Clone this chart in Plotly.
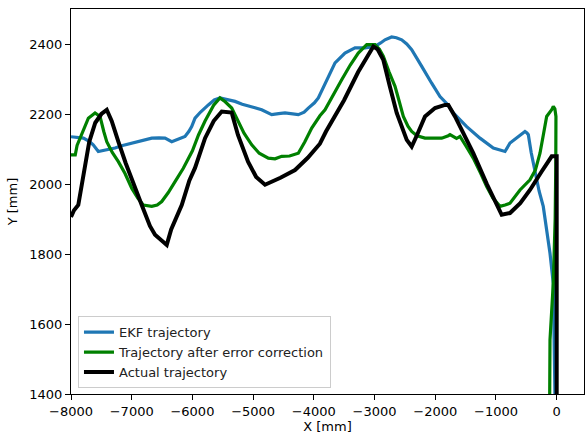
import plotly.graph_objects as go

# EKF trajectory
ekf_x = [-8000, -7900, -7796, -7700, -7634, -7550, -7450, -7385, -7275, -7150, -7000, -6850,
         -6670, -6550, -6451, -6341, -6200, -6122, -6060, -6012, -5957, -5870, -5738, -5640,
         -5546, -5420, -5298, -5180, -5078, -4970, -4859, -4694, -4580, -4475, -4256, -4160,
         -4091, -3990, -3926, -3816, -3740, -3651, -3487, -3322, -3157, -2993, -2900, -2828,
         -2718, -2640, -2553, -2470, -2388, -2300, -2223, -2059, -1922, -1800, -1703, -1482,
         -1263, -1044, -950, -851, -769, -604, -522, -490, -467, -420, -357, -290, -221, -165,
         -110, -56, -40, -28, -20]
ekf_y = [2135, 2134, 2131, 2122, 2112, 2093, 2097, 2098, 2103, 2110, 2117, 2124,
         2131, 2132, 2131, 2121, 2130, 2136, 2150, 2164, 2188, 2205, 2226, 2240,
         2246, 2242, 2236, 2228, 2222, 2218, 2212, 2198, 2201, 2203, 2198, 2205,
         2217, 2232, 2246, 2284, 2315, 2346, 2374, 2389, 2389, 2393, 2403, 2412,
         2420, 2418, 2412, 2400, 2384, 2360, 2336, 2288, 2250, 2228, 2203, 2164,
         2131, 2103, 2098, 2093, 2117, 2141, 2150, 2146, 2141, 2090, 2031, 1980, 1936, 1875,
         1802, 1716, 1574, 1403, 1300]

# Trajectory after error correction
corr_x = [-8000, -7930, -7900, -7851, -7780, -7714, -7604, -7522, -7460, -7411, -7320, -7220,
          -7110, -7000, -6900, -6809, -6670, -6580, -6505, -6400, -6286, -6150, -6000, -5900,
          -5792, -5738, -5650, -5546, -5460, -5353, -5250, -5150, -5023, -4900, -4750, -4640,
          -4529, -4400, -4256, -4150, -4035, -3900, -3816, -3700, -3541, -3400, -3268, -3129,
          -2993, -2920, -2856, -2760, -2663, -2600, -2526, -2450, -2388, -2300, -2169, -2050,
          -1894, -1785, -1757, -1650, -1593, -1500, -1374, -1250, -1153, -1050, -934, -850,
          -769, -604, -440, -350, -275, -220, -165, -82, -56, -30, -12, -15, -25, -56, -90,
          -110, -115, -118]
corr_y = [2083, 2083, 2110, 2131, 2165, 2188, 2203, 2193, 2150, 2121, 2090, 2064,
          2030, 1988, 1960, 1940, 1936, 1940, 1950, 1975, 2007, 2045, 2095, 2140,
          2180, 2198, 2225, 2246, 2235, 2217, 2180, 2145, 2112, 2088, 2074, 2072,
          2079, 2080, 2088, 2120, 2160, 2195, 2212, 2250, 2298, 2340, 2374, 2398,
          2398, 2385, 2365, 2320, 2279, 2240, 2193, 2165, 2150, 2138, 2131, 2131,
          2131, 2138, 2141, 2130, 2136, 2110, 2074, 2030, 1993, 1960, 1936, 1940,
          1945, 1983, 2012, 2040, 2088, 2140, 2193, 2212, 2222, 2215, 2193, 2050, 1900, 1716, 1620,
          1555, 1400, 1300]

# Actual trajectory
act_x = [-8000, -7950, -7880, -7800, -7700, -7600, -7500, -7411, -7330, -7220, -7100, -6835,
         -6700, -6616, -6520, -6423, -6350, -6176, -6050, -5957, -5792, -5650, -5517, -5353,
         -5250, -5084, -4950, -4804, -4550, -4310, -4100, -3900, -3800, -3500, -3270, -3020,
         -2950, -2856, -2750, -2635, -2470, -2388, -2300, -2169, -2004, -1840, -1785, -1675,
         -1374, -1150, -906, -769, -600, -440, -250, -82, 0, 0]
act_y = [1906, 1925, 1940, 2020, 2120, 2175, 2200, 2212, 2180, 2121, 2060, 1940,
         1880, 1855, 1840, 1826, 1870, 1940, 2010, 2046, 2131, 2180, 2207, 2204,
         2140, 2064, 2020, 1998, 2018, 2040, 2075, 2115, 2150, 2240, 2320, 2393,
         2385, 2355, 2280, 2203, 2126, 2107, 2140, 2193, 2217, 2226, 2226, 2193,
         2088, 2000, 1912, 1917, 1945, 1983, 2035, 2079, 2079, 1300]

x_ticks = [-8000, -7000, -6000, -5000, -4000, -3000, -2000, -1000, 0]
x_tick_labels = ["\u22128000", "\u22127000", "\u22126000", "\u22125000", "\u22124000",
                 "\u22123000", "\u22122000", "\u22121000", "0"]
y_ticks = [1400, 1600, 1800, 2000, 2200, 2400]
y_tick_labels = ["1400", "1600", "1800", "2000", "2200", "2400"]

FONT = "DejaVu Sans"

fig = go.Figure()
fig.add_trace(go.Scatter(x=ekf_x, y=ekf_y, mode="lines", name="EKF trajectory",
                         line=dict(color="#1f77b4", width=3.2)))
fig.add_trace(go.Scatter(x=corr_x, y=corr_y, mode="lines", name="Trajectory after error correction",
                         line=dict(color="#008000", width=3.2)))
fig.add_trace(go.Scatter(x=act_x, y=act_y, mode="lines", name="Actual trajectory",
                         line=dict(color="black", width=4)))

axis_common = dict(showline=True, linecolor="black", linewidth=1, mirror=True,
                   ticks="outside", ticklen=5, tickcolor="black", tickwidth=1,
                   showgrid=False, zeroline=False,
                   tickfont=dict(family=FONT, size=13, color="black"))

fig.update_xaxes(range=[-8000, 450], tickvals=x_ticks, ticktext=x_tick_labels,
                 title=dict(text="X [mm]", font=dict(family=FONT, size=13, color="black"), standoff=6),
                 **axis_common)
fig.update_yaxes(range=[1400, 2500], tickvals=y_ticks, ticktext=y_tick_labels,
                 title=dict(text="Y [mm]", font=dict(family=FONT, size=13, color="black"), standoff=8),
                 **axis_common)

fig.update_layout(
    width=585, height=434,
    margin=dict(l=71, r=1, t=9, b=40),
    plot_bgcolor="white", paper_bgcolor="white",
    font=dict(family=FONT, size=13, color="black"),
    showlegend=True,
    legend=dict(x=0.0136, y=0.015, xanchor="left", yanchor="bottom",
                bgcolor="rgba(255,255,255,0.8)", bordercolor="#cccccc", borderwidth=1,
                font=dict(family=FONT, size=13, color="#222222"),
                itemwidth=30, tracegroupgap=0),
)

fig.write_html("out.html")
